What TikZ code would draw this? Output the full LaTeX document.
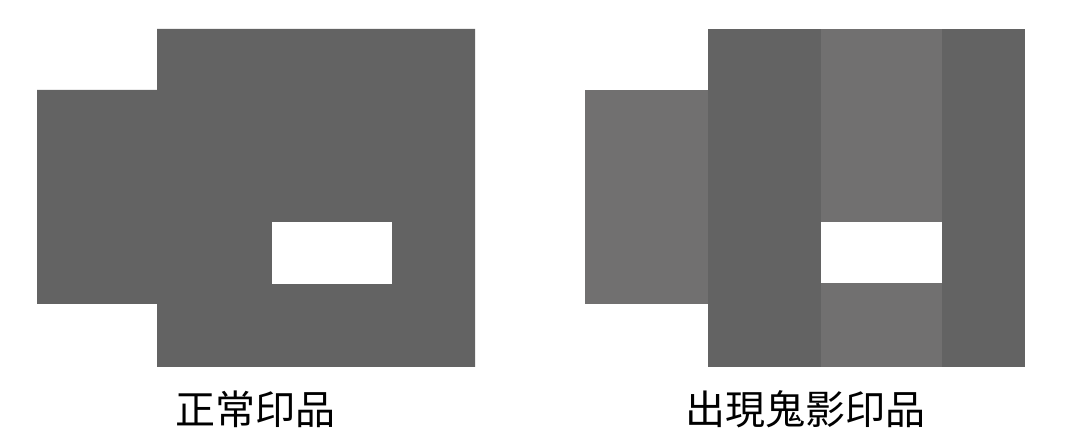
\documentclass[tikz,border=0pt]{standalone}
\usepackage{fontspec}
\newfontfamily\cjk{Noto Sans CJK TC}
\usepackage{tikz}
\definecolor{inkdark}{HTML}{636363}
\definecolor{inkghost}{HTML}{717070}
\tikzset{
  label text/.style={font=\cjk\fontsize{40}{40}\selectfont, inner sep=0pt, text=black}
}

\begin{document}
\begin{tikzpicture}[x=1pt, y=-1pt]
\useasboundingbox[fill=white] (0,0) rectangle (1080,446);
%normal print
\fill[inkdark] (37,90)--(157,90)--(157,29)--(475,29)--(475,367)--(157,367)--(157,304)--(37,304)--cycle;
\fill[white] (272,222)--(392,222)--(392,284)--(272,284)--cycle;
\node[label text] (normal) at (255,409) {正常印品};

%ghost print
\fill[inkghost] (585,90)--(708,90)--(708,304)--(585,304)--cycle;
\fill[inkdark] (708,29)--(1025,29)--(1025,367)--(708,367)--cycle;
\fill[inkghost] (821,29)--(942,29)--(942,367)--(821,367)--cycle;
\fill[white] (821,222)--(942,222)--(942,283)--(821,283)--cycle;
\node[label text] (ghost) at (805,409) {出現鬼影印品};

\end{tikzpicture}
\end{document}
